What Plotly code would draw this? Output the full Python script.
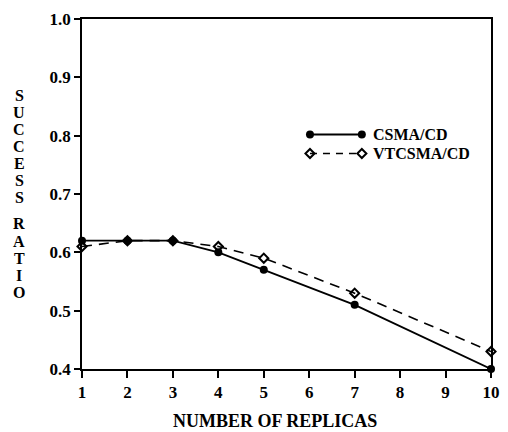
import plotly.graph_objects as go

replicas = [1, 2, 3, 4, 5, 7, 10]
csma_cd = [0.62, 0.62, 0.62, 0.60, 0.57, 0.51, 0.40]
vtcsma_cd = [0.61, 0.62, 0.62, 0.61, 0.59, 0.53, 0.43]
series_names = ["CSMA/CD", "VTCSMA/CD"]
x_ticks = [1, 2, 3, 4, 5, 6, 7, 8, 9, 10]
y_ticks = [0.4, 0.5, 0.6, 0.7, 0.8, 0.9, 1.0]
x_title = "NUMBER OF REPLICAS"
y_title_words = ["SUCCESS", "RATIO"]

FONT = "Liberation Serif"
fnt_tick = dict(family=FONT, size=17, color="black", weight="bold")
fnt_text = dict(family=FONT, size=18, color="black", weight="bold")
fnt_legend = dict(family=FONT, size=16, color="black", weight="bold")
fnt_letters = dict(family=FONT, size=16, color="black", weight="bold")

# plot area in page pixels: x 82..500, y 19..369
PL, PR, PT, PB = 82, 500, 19, 369
PW, PH = PR - PL, PB - PT
FIG_W, FIG_H = 508, 432

def px_x(p):
    return (p - PL) / PW

def px_y(p):
    return (PB - p) / PH

fig = go.Figure()
fig.add_trace(go.Scatter(
    x=replicas, y=csma_cd, mode="lines+markers", name=series_names[0],
    line=dict(color="black", width=1.8),
    marker=dict(symbol="circle", size=8, color="black"),
    showlegend=False, cliponaxis=False))
fig.add_trace(go.Scatter(
    x=replicas, y=vtcsma_cd, mode="lines+markers", name=series_names[1],
    line=dict(color="black", width=1.6, dash="10px,7px"),
    marker=dict(symbol="diamond-open", size=7, color="black", line=dict(width=2)),
    showlegend=False, cliponaxis=False))

# custom legend keys on an overlay axis (0..1 of the plot area)
leg_x = [px_x(315), px_x(368)]
leg_y = [px_y(134.5), px_y(153.5)]
fig.add_trace(go.Scatter(
    x=leg_x, y=[leg_y[0]] * 2, xaxis="x2", yaxis="y2", mode="lines+markers",
    line=dict(color="black", width=1.8),
    marker=dict(symbol="circle", size=8, color="black"),
    showlegend=False, hoverinfo="skip"))
fig.add_trace(go.Scatter(
    x=leg_x, y=[leg_y[1]] * 2, xaxis="x2", yaxis="y2", mode="lines+markers",
    line=dict(color="black", width=1.6, dash="7px,6px"),
    marker=dict(symbol="diamond-open", size=7, color="black", line=dict(width=2)),
    showlegend=False, hoverinfo="skip"))

annotations = []
for name, yy in zip(series_names, leg_y):
    annotations.append(dict(x=px_x(377), y=yy, xref="paper", yref="paper", text=name,
                            showarrow=False, xanchor="left", yanchor="middle", font=fnt_legend))

annotations.append(dict(x=px_x(279), y=px_y(421), xref="paper", yref="paper", text=x_title,
                        showarrow=False, xanchor="center", yanchor="middle", font=fnt_text))

# stacked vertical y-axis title letters
word_starts = [95.5, 224]
pitch = 17
for w, start in zip(y_title_words, word_starts):
    for i, ch in enumerate(w):
        annotations.append(dict(x=px_x(18), y=px_y(start + i * pitch),
                                xref="paper", yref="paper", text=ch,
                                showarrow=False, xanchor="center", yanchor="middle",
                                font=fnt_letters))

fig.update_layout(
    width=FIG_W, height=FIG_H,
    margin=dict(l=PL, r=FIG_W - PR, t=PT, b=FIG_H - PB),
    paper_bgcolor="white", plot_bgcolor="white",
    font=fnt_tick,
    showlegend=False,
    xaxis=dict(range=[1, 10], tickvals=x_ticks, showgrid=False, zeroline=False,
               showline=True, linecolor="black", linewidth=1.5, mirror=True,
               ticks="outside", ticklen=7, tickwidth=1.5, tickcolor="black",
               tickfont=fnt_tick, ticklabeloverflow="allow"),
    yaxis=dict(range=[0.4, 1.0], tickvals=y_ticks, tickformat=".1f", showgrid=False,
               zeroline=False, showline=True, linecolor="black", linewidth=1.5,
               mirror=True, ticks="outside", ticklen=6, tickwidth=1.5,
               tickcolor="black", tickfont=fnt_tick, ticklabeloverflow="allow"),
    xaxis2=dict(range=[0, 1], overlaying="x", visible=False),
    yaxis2=dict(range=[0, 1], overlaying="y", visible=False),
    annotations=annotations,
)

fig.write_html("out.html", config={"displayModeBar": False},
               post_script="document.body.style.margin='0';document.body.style.overflow='hidden';")
